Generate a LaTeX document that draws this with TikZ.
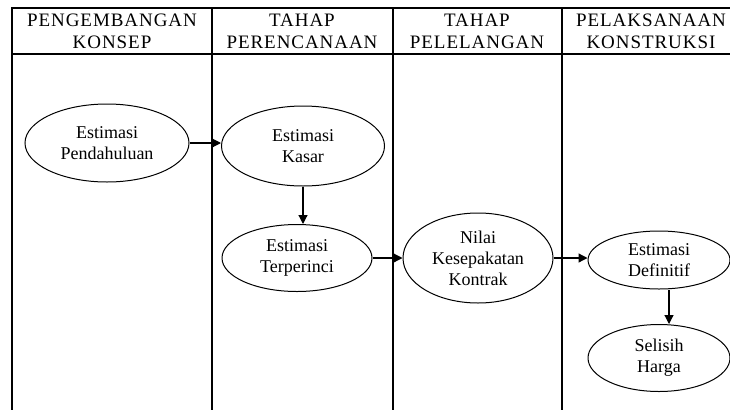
\documentclass[tikz,border=0pt]{standalone}
\usepackage{fontspec}
\setmainfont{Liberation Serif}
\usetikzlibrary{arrows.meta, shapes.geometric}

\begin{document}
\begin{tikzpicture}[x=1pt, y=-1pt, >={Triangle[length=9pt, width=9pt]},
  tahap/.style={align=center, font=\fontsize{19}{22}\selectfont\addfontfeatures{LetterSpace=5}},
  estimasi/.style={draw, ellipse, line width=1pt, inner sep=0pt, align=center,
    font=\fontsize{18}{21}\selectfont}]
  \useasboundingbox (0,0) rectangle (730,410);
  % tabel
  \draw[line width=1.6pt] (730,8) -- (12,8) -- (12,410);
  \draw[line width=1.6pt] (12,54) -- (730,54);
  \draw[line width=1.6pt] (212,8) -- (212,410);
  \draw[line width=1.6pt] (393,8) -- (393,410);
  \draw[line width=1.6pt] (562,8) -- (562,410);
  % judul kolom
  \node[tahap] (konsep) at (112,31) {PENGEMBANGAN\\KONSEP};
  \node[tahap] (rencana) at (302,31) {TAHAP\\PERENCANAAN};
  \node[tahap] (lelang) at (477,31) {TAHAP\\PELELANGAN};
  \node[tahap] (konstruksi) at (651,31) {PELAKSANAAN\\KONSTRUKSI};
  % estimasi
  \node[estimasi, minimum width=164pt, minimum height=78pt] (pend) at (107,143) {Estimasi\\Pendahuluan};
  \node[estimasi, minimum width=163pt, minimum height=80pt] (kasar) at (303,146) {Estimasi\\Kasar};
  \node[estimasi, minimum width=150pt, minimum height=67pt] (rinci) at (297,258) {Estimasi\\Terperinci};
  \node[estimasi, minimum width=150pt, minimum height=90pt] (nilai) at (478,258) {Nilai\\Kesepakatan\\Kontrak};
  \node[estimasi, minimum width=142pt, minimum height=58pt] (defin) at (659,260) {Estimasi\\Definitif};
  \node[estimasi, minimum width=142pt, minimum height=67pt] (selisih) at (659,358) {Selisih\\Harga};
  % panah
  \draw[->, line width=1.2pt] (pend) -- (pend -| kasar.west);
  \draw[->, line width=1.2pt] (kasar.south) -- (kasar.south |- rinci.north);
  \draw[->, line width=1.2pt] (rinci) -- (rinci -| nilai.west);
  \draw[->, line width=1.2pt] (nilai) -- (nilai -| defin.west);
  \draw[->, line width=1.2pt] ([xshift=10pt]defin.south) -- ([xshift=10pt]defin.south |- selisih.north);
\end{tikzpicture}
\end{document}
